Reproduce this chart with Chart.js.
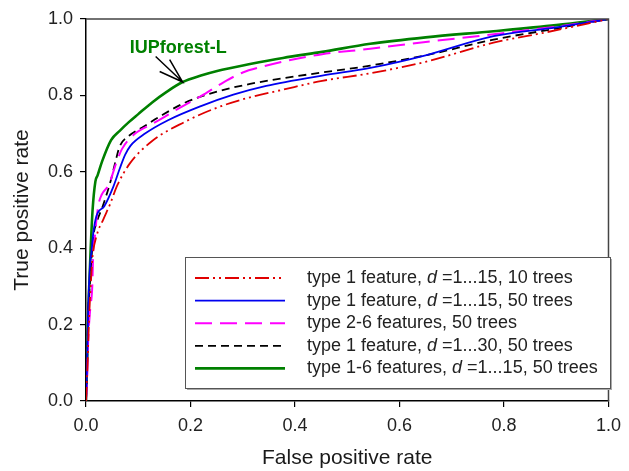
<!DOCTYPE html>
<html lang="en">
<head>
  <meta charset="UTF-8">
  <meta name="viewport" content="width=device-width, initial-scale=1">
  <title>ROC curves</title>
  <script src="https://cdn.jsdelivr.net/npm/chart.js"></script>
  <style>
    html, body {
      margin: 0;
      padding: 0;
      background: #fff;
    }
    .chart-container {
      position: relative;
      width: 629px;
      height: 471px;
    }
  </style>
</head>
<body>
  <div class="chart-container">
    <canvas id="rocChart"></canvas>
  </div>

  <script>
    // series names (the lone "d" is drawn in italics)
    const seriesLabels = [
      'type 1 feature, d =1...15, 10 trees',
      'type 1 feature, d =1...15, 50 trees',
      'type 2-6 features, 50 trees',
      'type 1 feature, d =1...30, 50 trees',
      'type 1-6 features, d =1...15, 50 trees'
    ];

    // ROC points: false positive rate / true positive rate
    const red10Fpr = [0, 0.003, 0.006, 0.009, 0.012, 0.02, 0.033, 0.046, 0.06, 0.084, 0.126, 0.188, 0.251, 0.314, 0.377, 0.452, 0.544, 0.65, 0.78, 0.88, 0.96, 1];
    const red10Tpr = [0, 0.10, 0.22, 0.30, 0.37, 0.431, 0.475, 0.515, 0.565, 0.622, 0.68, 0.73, 0.768, 0.795, 0.815, 0.838, 0.858, 0.888, 0.938, 0.965, 0.988, 1];

    const blue50Fpr = [0, 0.002, 0.004, 0.0075, 0.011, 0.014, 0.02, 0.035, 0.052, 0.065, 0.075, 0.085, 0.113, 0.157, 0.22, 0.282, 0.345, 0.452, 0.544, 0.65, 0.78, 0.9, 1];
    const blue50Tpr = [0, 0.09, 0.23, 0.35, 0.397, 0.44, 0.484, 0.51, 0.56, 0.61, 0.645, 0.668, 0.70, 0.735, 0.772, 0.802, 0.825, 0.852, 0.872, 0.905, 0.955, 0.978, 1];

    const magentaFpr = [0, 0.002, 0.004, 0.008, 0.012, 0.014, 0.017, 0.02, 0.024, 0.03, 0.044, 0.058, 0.069, 0.094, 0.126, 0.152, 0.18, 0.22, 0.264, 0.3, 0.334, 0.389, 0.452, 0.544, 0.65, 0.78, 0.9, 1];
    const magentaTpr = [0, 0.05, 0.15, 0.24, 0.30, 0.397, 0.431, 0.475, 0.515, 0.54, 0.567, 0.624, 0.66, 0.70, 0.725, 0.745, 0.768, 0.798, 0.835, 0.86, 0.874, 0.892, 0.908, 0.922, 0.94, 0.96, 0.98, 1];

    const black30Fpr = [0, 0.002, 0.004, 0.0075, 0.014, 0.02, 0.032, 0.048, 0.057, 0.064, 0.083, 0.11, 0.138, 0.188, 0.251, 0.314, 0.377, 0.452, 0.544, 0.65, 0.78, 0.9, 1];
    const black30Tpr = [0, 0.09, 0.22, 0.31, 0.43, 0.466, 0.51, 0.58, 0.63, 0.665, 0.695, 0.718, 0.742, 0.78, 0.81, 0.83, 0.845, 0.86, 0.878, 0.905, 0.946, 0.975, 1];

    const greenFpr = [0, 0.002, 0.004, 0.007, 0.009, 0.0126, 0.018, 0.022, 0.031, 0.048, 0.065, 0.082, 0.1, 0.126, 0.155, 0.185, 0.22, 0.251, 0.314, 0.377, 0.452, 0.544, 0.65, 0.78, 0.9, 1];
    const greenTpr = [0, 0.10, 0.22, 0.33, 0.40, 0.50, 0.575, 0.59, 0.628, 0.683, 0.708, 0.73, 0.751, 0.781, 0.81, 0.835, 0.852, 0.864, 0.882, 0.898, 0.914, 0.935, 0.952, 0.968, 0.984, 1];

    const axisTicks = [0, 0.2, 0.4, 0.6, 0.8, 1.0];

    // callout pointing at the green curve
    const calloutText = 'IUPforest-L';
    const calloutTip = { x: 0.185, y: 0.835 };

    const seriesColors = ['#e00000', '#0000f0', '#ff00ff', '#000000', '#008000'];
    const seriesDashes = [[14, 4, 2, 4, 2, 4], [], [17, 8], [8, 5], []];
    const seriesWidths = [1.8, 1.8, 2, 1.8, 2.6];

    const fontFamily = 'Arial, "Liberation Sans", sans-serif';
    Chart.defaults.font.family = fontFamily;
    Chart.defaults.color = '#222';

    function toPoints(xs, ys) {
      return xs.map((x, i) => ({ x: x, y: ys[i] }));
    }

    const seriesPoints = [
      toPoints(red10Fpr, red10Tpr),
      toPoints(blue50Fpr, blue50Tpr),
      toPoints(magentaFpr, magentaTpr),
      toPoints(black30Fpr, black30Tpr),
      toPoints(greenFpr, greenTpr)
    ];

    // top and right edges of the plot frame
    const framePlugin = {
      id: 'frame',
      afterDraw(chart) {
        const { ctx, chartArea: a } = chart;
        ctx.save();
        ctx.strokeStyle = '#444';
        ctx.lineWidth = 1.5;
        ctx.beginPath();
        ctx.moveTo(a.left, a.top);
        ctx.lineTo(a.right, a.top);
        ctx.lineTo(a.right, a.bottom);
        ctx.stroke();
        ctx.restore();
      }
    };

    // boxed legend with italic "d"
    const boxLegendPlugin = {
      id: 'boxLegend',
      afterDraw(chart) {
        const { ctx, chartArea: a } = chart;
        const left = a.left + 99, top = a.top + 238, w = 425, h = 131;
        ctx.save();
        ctx.fillStyle = '#aaa';
        ctx.fillRect(left + 2, top + 2, w, h);
        ctx.fillStyle = '#fff';
        ctx.fillRect(left, top, w, h);
        ctx.strokeStyle = '#555';
        ctx.lineWidth = 1;
        ctx.strokeRect(left + 0.5, top + 0.5, w, h);

        ctx.textBaseline = 'middle';
        chart.data.datasets.forEach((ds, i) => {
          const y = top + 21 + i * 22.6;
          ctx.strokeStyle = ds.borderColor;
          ctx.lineWidth = ds.borderWidth;
          ctx.setLineDash(ds.borderDash);
          ctx.beginPath();
          ctx.moveTo(left + 10, y);
          ctx.lineTo(left + 100, y);
          ctx.stroke();
          ctx.setLineDash([]);

          let x = left + 122;
          ctx.fillStyle = '#222';
          ds.label.split(/(\bd\b)/).forEach(part => {
            if (!part) return;
            ctx.font = (part === 'd' ? 'italic ' : '') + '18px ' + fontFamily;
            ctx.fillText(part, x, y);
            x += ctx.measureText(part).width;
          });
        });
        ctx.restore();
      }
    };

    // "IUPforest-L" label and its arrow
    const calloutPlugin = {
      id: 'callout',
      afterDatasetsDraw(chart) {
        const { ctx, scales } = chart;
        const tx = scales.x.getPixelForValue(calloutTip.x);
        const ty = scales.y.getPixelForValue(calloutTip.y);
        ctx.save();
        ctx.strokeStyle = '#000';
        ctx.lineWidth = 1.5;
        ctx.beginPath();
        ctx.moveTo(tx - 27, ty - 25.5);
        ctx.lineTo(tx, ty);
        ctx.moveTo(tx - 13, ty - 22.5);
        ctx.lineTo(tx, ty);
        ctx.lineTo(tx - 23, ty - 10.5);
        ctx.stroke();

        ctx.fillStyle = '#008000';
        ctx.font = 'bold 18px ' + fontFamily;
        ctx.textBaseline = 'alphabetic';
        ctx.fillText(calloutText, tx - 53, ty - 29);
        ctx.restore();
      }
    };

    const ctx = document.getElementById('rocChart').getContext('2d');
    const chart = new Chart(ctx, {
      type: 'line',
      data: {
        datasets: seriesLabels.map((label, i) => ({
          label: label,
          data: seriesPoints[i],
          borderColor: seriesColors[i],
          borderWidth: seriesWidths[i],
          borderDash: seriesDashes[i],
          pointRadius: 0,
          fill: false,
          cubicInterpolationMode: 'monotone'
        }))
      },
      options: {
        responsive: true,
        maintainAspectRatio: false,
        animation: false,
        devicePixelRatio: 1,
        layout: {
          padding: { top: 19, right: 12, left: 0, bottom: 0 }
        },
        scales: {
          x: {
            type: 'linear',
            min: 0,
            max: 1,
            afterBuildTicks: (scale) => {
              scale.ticks = axisTicks.map(v => ({ value: v }));
            },
            afterFit: (scale) => { scale.height = 70; },
            ticks: {
              callback: (v) => v.toFixed(1),
              font: { size: 18 },
              color: '#222',
              padding: 8,
              maxRotation: 0
            },
            grid: {
              drawOnChartArea: false,
              drawTicks: true,
              tickLength: 6,
              color: '#000',
              lineWidth: 1.2
            },
            border: { display: true, color: '#000', width: 1.5 },
            title: {
              display: true,
              text: 'False positive rate',
              font: { size: 21, lineHeight: 1 },
              color: '#1a1a1a',
              padding: { top: 0, bottom: 2 }
            }
          },
          y: {
            type: 'linear',
            min: 0,
            max: 1,
            afterBuildTicks: (scale) => {
              scale.ticks = axisTicks.map(v => ({ value: v }));
            },
            afterFit: (scale) => { scale.width = 86; },
            ticks: {
              callback: (v) => v.toFixed(1),
              font: { size: 18 },
              color: '#222',
              padding: 7
            },
            grid: {
              drawOnChartArea: false,
              drawTicks: true,
              tickLength: 6,
              color: '#000',
              lineWidth: 1.2
            },
            border: { display: true, color: '#000', width: 1.5 },
            title: {
              display: true,
              text: 'True positive rate',
              font: { size: 21, lineHeight: 1 },
              color: '#1a1a1a',
              padding: { top: 12, bottom: 0 }
            }
          }
        },
        plugins: {
          legend: { display: false },
          tooltip: { enabled: false }
        }
      },
      plugins: [framePlugin, calloutPlugin, boxLegendPlugin]
    });
  </script>
</body>
</html>
